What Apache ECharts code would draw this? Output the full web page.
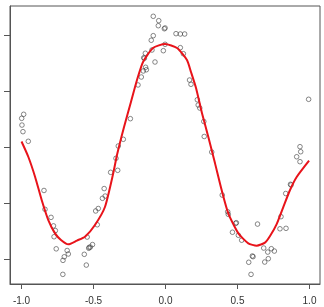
<!DOCTYPE html>
<html>
<head>
<meta charset="utf-8">
<script src="https://cdn.jsdelivr.net/npm/echarts@6/dist/echarts.min.js"></script>
<style>
html,body{margin:0;padding:0;background:#fff;}
#chart{width:324px;height:307px;}
</style>
</head>
<body>
<div id="chart"></div>
<script>
// Scatter observations (x, y)
var pointX = [-0.999,-0.985,-0.997,-0.990,-0.953,-0.844,-0.837,-0.795,-0.778,-0.765,-0.774,-0.759,-0.683,-0.675,-0.703,-0.712,-0.713,-0.485,-0.467,-0.474,-0.544,-0.507,-0.530,-0.522,-0.533,-0.564,-0.550,-0.426,-0.438,-0.419,-0.381,-0.344,-0.332,
  -0.293,-0.328,-0.244,-0.191,-0.168,-0.154,-0.133,-0.138,-0.073,-0.147,-0.151,-0.140,-0.094,-0.015,-0.003,-0.099,-0.085,-0.008,-0.003,-0.050,-0.047,-0.085,0.073,0.103,0.133,0.103,0.124,0.167,0.177,0.221,0.227,0.238,0.266,0.269,
  0.321,0.394,0.432,0.436,0.488,0.492,0.465,0.506,0.529,0.639,0.802,0.795,0.837,0.682,0.710,0.735,0.756,0.603,0.608,0.578,0.714,0.689,0.594,0.994,0.934,0.939,0.911,0.934,0.868,0.872,0.835];
var pointY = [0.256,0.292,0.196,0.137,0.051,-0.388,-0.556,-0.628,-0.704,-0.746,-0.801,-0.909,-0.924,-0.955,-0.980,-1.012,-1.137,-0.571,-0.549,-0.694,-0.804,-0.871,-0.896,-0.893,-0.904,-0.958,-1.054,-0.371,-0.458,-0.438,-0.226,-0.101,-0.208,
  0.069,0.009,0.253,0.554,0.625,0.679,0.690,0.712,0.759,0.792,0.797,0.837,0.866,0.860,0.917,0.953,0.994,1.056,1.063,1.083,1.128,1.167,1.012,1.009,1.009,0.887,0.833,0.598,0.560,0.422,0.375,0.348,0.228,0.094,
  -0.045,-0.429,-0.578,-0.601,-0.681,-0.676,-0.761,-0.788,-0.832,-0.688,-0.622,-0.730,-0.726,-0.902,-0.938,-0.908,-0.929,-0.973,-0.979,-1.029,-0.997,-1.027,-1.137,0.426,0.003,-0.042,-0.087,-0.131,-0.333,-0.339,-0.415];
// Smoothed fit curve
var fitX = [-1.000,-0.953,-0.906,-0.860,-0.814,-0.767,-0.726,-0.675,-0.615,-0.559,-0.490,-0.420,-0.363,-0.337,-0.288,-0.240,-0.198,-0.156,-0.087,-0.003,0.080,0.149,0.177,0.212,0.253,0.297,0.344,0.390,0.436,0.506,0.575,0.633,0.691,0.726,0.772,0.818,0.865,0.911,0.997];
var fitY = [0.049,-0.087,-0.265,-0.473,-0.652,-0.771,-0.830,-0.869,-0.835,-0.801,-0.696,-0.533,-0.235,-0.071,0.179,0.402,0.598,0.759,0.884,0.920,0.884,0.777,0.670,0.527,0.304,0.092,-0.146,-0.384,-0.592,-0.771,-0.860,-0.881,-0.854,-0.795,-0.688,-0.536,-0.384,-0.268,-0.122];
var xTicks = [-1.0,-0.5,0.0,0.5,1.0];
var yTicks = [-1.0,-0.5,0.0,0.5,1.0];

var scatterData = pointX.map(function(x,i){return [x,pointY[i]];});
var fitData = fitX.map(function(x,i){return [x,fitY[i]];});

var chart = echarts.init(document.getElementById('chart'), null, {renderer:'canvas'});
chart.setOption({
  animation:false,
  backgroundColor:'#ffffff',
  grid:{left:10,right:4,top:6,bottom:23,show:true,borderColor:'#555',borderWidth:1,backgroundColor:'transparent'},
  xAxis:{
    type:'value',min:-1.08,max:1.073,
    axisLine:{show:true,onZero:false,lineStyle:{color:'#555',width:1}},
    axisTick:{show:true,length:5,lineStyle:{color:'#555'},customValues:xTicks},
    axisLabel:{show:true,customValues:xTicks,fontFamily:'Liberation Sans, Arial, sans-serif',fontSize:10,color:'#333',margin:12,
      formatter:function(v){return v.toFixed(1);}},
    splitLine:{show:false}
  },
  yAxis:{
    type:'value',min:-1.223,max:1.259,
    axisLine:{show:true,onZero:false,lineStyle:{color:'#555',width:1}},
    axisTick:{show:true,length:6,lineStyle:{color:'#555'},customValues:yTicks},
    axisLabel:{show:false},
    splitLine:{show:false}
  },
  series:[
    {type:'scatter',data:scatterData,symbol:'circle',symbolSize:4.6,
      itemStyle:{color:'rgba(255,255,255,0)',borderColor:'#444',borderWidth:0.8},z:2},
    {type:'line',data:fitData,showSymbol:false,smooth:0.2,
      lineStyle:{color:'#e8131a',width:2},z:3}
  ]
});
</script>
</body>
</html>
